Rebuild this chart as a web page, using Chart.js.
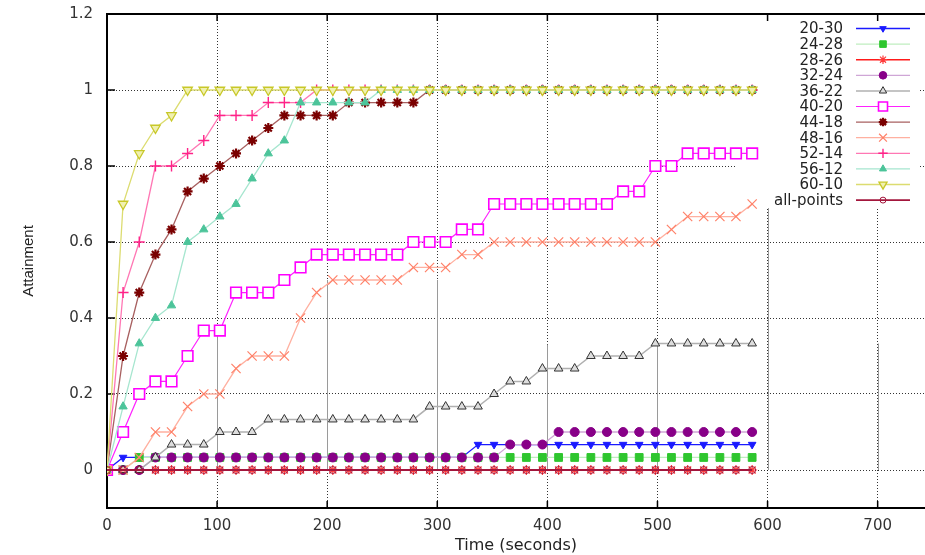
<!DOCTYPE html>
<html>
<head>
<meta charset="utf-8">
<title>Attainment</title>
<script src="https://cdn.jsdelivr.net/npm/chart.js"></script>
<style>
  body { margin: 0; background: #fff; }
  #wrap { width: 925px; height: 555px; }
</style>
</head>
<body>
<div id="wrap"><canvas id="chart" width="925" height="555"></canvas></div>
<script>
// sample times (seconds)
const times = [0, 14.6, 29.3, 44, 58.6, 73.2, 87.9, 102.5, 117.2, 131.8, 146.5, 161.1, 175.8, 190.4,
    205.1, 219.7, 234.4, 249, 263.7, 278.3, 293, 307.6, 322.3, 337, 351.6, 366.2, 380.9, 395.5,
    410.2, 424.8, 439.5, 454.1, 468.8, 483.4, 498.1, 512.7, 527.4, 542, 556.7, 571.3, 586];

const labels = ['20-30', '24-28', '28-26', '32-24', '36-22', '40-20', '44-18', '48-16', '52-14', '56-12', '60-10', 'all-points'];

const s2030 = [0, 0.033, 0.033, 0.033, 0.033, 0.033, 0.033, 0.033, 0.033, 0.033, 0.033, 0.033, 0.033, 0.033,
    0.033, 0.033, 0.033, 0.033, 0.033, 0.033, 0.033, 0.033, 0.033, 0.067, 0.067, 0.067, 0.067, 0.067,
    0.067, 0.067, 0.067, 0.067, 0.067, 0.067, 0.067, 0.067, 0.067, 0.067, 0.067, 0.067, 0.067];
const s2428 = [0, 0, 0.033, 0.033, 0.033, 0.033, 0.033, 0.033, 0.033, 0.033, 0.033, 0.033, 0.033, 0.033,
    0.033, 0.033, 0.033, 0.033, 0.033, 0.033, 0.033, 0.033, 0.033, 0.033, 0.033, 0.033, 0.033, 0.033,
    0.033, 0.033, 0.033, 0.033, 0.033, 0.033, 0.033, 0.033, 0.033, 0.033, 0.033, 0.033, 0.033];
const s2826 = [0, 0, 0, 0, 0, 0, 0, 0, 0, 0, 0, 0, 0, 0, 0, 0, 0, 0, 0, 0, 0,
    0, 0, 0, 0, 0, 0, 0, 0, 0, 0, 0, 0, 0, 0, 0, 0, 0, 0, 0, 0];
const s3224 = [0, 0, 0, 0.033, 0.033, 0.033, 0.033, 0.033, 0.033, 0.033, 0.033, 0.033, 0.033, 0.033,
    0.033, 0.033, 0.033, 0.033, 0.033, 0.033, 0.033, 0.033, 0.033, 0.033, 0.033, 0.067, 0.067, 0.067,
    0.1, 0.1, 0.1, 0.1, 0.1, 0.1, 0.1, 0.1, 0.1, 0.1, 0.1, 0.1, 0.1];
const s3622 = [0, 0, 0, 0.033, 0.067, 0.067, 0.067, 0.1, 0.1, 0.1, 0.133, 0.133, 0.133, 0.133,
    0.133, 0.133, 0.133, 0.133, 0.133, 0.133, 0.167, 0.167, 0.167, 0.167, 0.2, 0.233, 0.233, 0.267,
    0.267, 0.267, 0.3, 0.3, 0.3, 0.3, 0.333, 0.333, 0.333, 0.333, 0.333, 0.333, 0.333];
const s4020 = [0, 0.1, 0.2, 0.233, 0.233, 0.3, 0.367, 0.367, 0.467, 0.467, 0.467, 0.5, 0.533, 0.567,
    0.567, 0.567, 0.567, 0.567, 0.567, 0.6, 0.6, 0.6, 0.633, 0.633, 0.7, 0.7, 0.7, 0.7,
    0.7, 0.7, 0.7, 0.7, 0.733, 0.733, 0.8, 0.8, 0.833, 0.833, 0.833, 0.833, 0.833];
const s4418 = [0, 0.3, 0.467, 0.567, 0.633, 0.733, 0.767, 0.8, 0.833, 0.867, 0.9, 0.933, 0.933, 0.933,
    0.933, 0.967, 0.967, 0.967, 0.967, 0.967, 1, 1, 1, 1, 1, 1, 1, 1,
    1, 1, 1, 1, 1, 1, 1, 1, 1, 1, 1, 1, 1];
const s4816 = [0, 0, 0.033, 0.1, 0.1, 0.167, 0.2, 0.2, 0.267, 0.3, 0.3, 0.3, 0.4, 0.467,
    0.5, 0.5, 0.5, 0.5, 0.5, 0.533, 0.533, 0.533, 0.567, 0.567, 0.6, 0.6, 0.6, 0.6,
    0.6, 0.6, 0.6, 0.6, 0.6, 0.6, 0.6, 0.633, 0.667, 0.667, 0.667, 0.667, 0.7];
const s5214 = [0, 0.467, 0.6, 0.8, 0.8, 0.833, 0.867, 0.933, 0.933, 0.933, 0.967, 0.967, 0.967, 1,
    1, 1, 1, 1, 1, 1, 1, 1, 1, 1, 1, 1, 1, 1,
    1, 1, 1, 1, 1, 1, 1, 1, 1, 1, 1, 1, 1];
const s5612 = [0, 0.167, 0.333, 0.4, 0.433, 0.6, 0.633, 0.667, 0.7, 0.767, 0.833, 0.867, 0.967, 0.967,
    0.967, 0.967, 0.967, 1, 1, 1, 1, 1, 1, 1, 1, 1, 1, 1,
    1, 1, 1, 1, 1, 1, 1, 1, 1, 1, 1, 1, 1];
const s6010 = [0, 0.7, 0.833, 0.9, 0.933, 1, 1, 1, 1, 1, 1, 1, 1, 1,
    1, 1, 1, 1, 1, 1, 1, 1, 1, 1, 1, 1, 1, 1,
    1, 1, 1, 1, 1, 1, 1, 1, 1, 1, 1, 1, 1];
const sAll = [0, 0, 0, 0, 0, 0, 0, 0, 0, 0, 0, 0, 0, 0, 0, 0, 0, 0, 0, 0, 0,
    0, 0, 0, 0, 0, 0, 0, 0, 0, 0, 0, 0, 0, 0, 0, 0, 0, 0, 0, 0];

const series = [s2030, s2428, s2826, s3224, s3622, s4020, s4418, s4816, s5214, s5612, s6010, sAll];

const xTicks = [0, 100, 200, 300, 400, 500, 600, 700];
const xTickLabels = ['0', '100', '200', '300', '400', '500', '600', '700'];
const yTicks = [0, 0.2, 0.4, 0.6, 0.8, 1, 1.2];
const yTickLabels = ['0', '0.2', '0.4', '0.6', '0.8', '1', '1.2'];

// look of each line, same order as labels
const looks = [
    { borderColor: '#1a1aff', borderWidth: 1.3, pointStyle: 'triangle', pointRotation: 180, pointRadius: 4.4, pointBackgroundColor: '#1a1aff', pointBorderColor: '#1a1aff', pointBorderWidth: 1 },
    { borderColor: '#bfeebf', borderWidth: 1.3, pointStyle: 'rect', pointRadius: 5.5, pointBackgroundColor: '#2ec62e', pointBorderColor: '#2ec62e', pointBorderWidth: 1 },
    { borderColor: '#ff1a1a', borderWidth: 1.6, pointStyle: 'star', pointRadius: 5, pointBackgroundColor: '#ff4040', pointBorderColor: '#ff3a3a', pointBorderWidth: 1.2 },
    { borderColor: '#cfa6d6', borderWidth: 1.3, pointStyle: 'circle', pointRadius: 4.5, pointBackgroundColor: '#880088', pointBorderColor: '#880088', pointBorderWidth: 1 },
    { borderColor: '#b0b0b0', borderWidth: 1.5, pointStyle: 'triangle', pointRadius: 5, pointBackgroundColor: '#dddddd', pointBorderColor: '#333333', pointBorderWidth: 1 },
    { borderColor: '#ff22ff', borderWidth: 1.2, pointStyle: 'rect', pointRadius: 7.5, pointBackgroundColor: '#ffffff', pointBorderColor: '#ff00ff', pointBorderWidth: 1.6 },
    { borderColor: '#a86060', borderWidth: 1.3, pointStyle: 'star', pointRadius: 5, pointBackgroundColor: '#7a0000', pointBorderColor: '#7a0000', pointBorderWidth: 2.2 },
    { borderColor: '#ffb0a0', borderWidth: 1.3, pointStyle: 'crossRot', pointRadius: 6.5, pointBackgroundColor: '#ff8068', pointBorderColor: '#ff8068', pointBorderWidth: 1.2 },
    { borderColor: '#ff77b4', borderWidth: 1.3, pointStyle: 'cross', pointRadius: 5.5, pointBackgroundColor: '#ff2288', pointBorderColor: '#ff2288', pointBorderWidth: 1.4 },
    { borderColor: '#a6e6cf', borderWidth: 1.3, pointStyle: 'triangle', pointRadius: 4.8, pointBackgroundColor: '#4cc49a', pointBorderColor: '#4cc49a', pointBorderWidth: 1 },
    { borderColor: '#dcdc70', borderWidth: 1.3, pointStyle: 'triangle', pointRotation: 180, pointRadius: 5.5, pointBackgroundColor: '#f0f0b0', pointBorderColor: '#c8c828', pointBorderWidth: 1.3 },
    { borderColor: '#a3163c', borderWidth: 1.8, pointStyle: 'circle', pointRadius: 3.5, pointBackgroundColor: 'rgba(0,0,0,0)', pointBorderColor: '#a3163c', pointBorderWidth: 1 }
];

Chart.defaults.font.family = '"DejaVu Sans", sans-serif';
Chart.defaults.color = '#333';

// black frame, inward tics and the grey solid bits of the gnuplot grid
const frame = {
    id: 'frame',
    beforeDatasetsDraw(chart, args, opts) {
        const { ctx, chartArea: a, scales: { x, y } } = chart;
        ctx.save();
        ctx.strokeStyle = '#9a9a9a';
        ctx.lineWidth = 1;
        opts.solid.forEach(([t, v]) => {
            const px = Math.round(x.getPixelForValue(t)) + 0.5;
            ctx.beginPath();
            ctx.moveTo(px, y.getPixelForValue(v));
            ctx.lineTo(px, y.getPixelForValue(0));
            ctx.stroke();
        });

        // key background only hides the grid, data still goes over it
        ctx.fillStyle = '#fff';
        ctx.fillRect(chart.width - 190, 19, 183, 189);

        ctx.strokeStyle = '#000';
        ctx.lineWidth = 2;
        ctx.beginPath();
        ctx.moveTo(a.right + 5, a.top);
        ctx.lineTo(a.left, a.top);
        ctx.lineTo(a.left, a.bottom);
        ctx.lineTo(a.right + 5, a.bottom);
        ctx.stroke();

        ctx.lineWidth = 1.5;
        ctx.beginPath();
        xTicks.forEach(t => {
            const px = x.getPixelForValue(t);
            ctx.moveTo(px, a.bottom); ctx.lineTo(px, a.bottom - 7);
            ctx.moveTo(px, a.top); ctx.lineTo(px, a.top + 7);
        });
        yTicks.forEach(v => {
            const py = y.getPixelForValue(v);
            ctx.moveTo(a.left, py); ctx.lineTo(a.left + 8, py);
        });
        ctx.stroke();
        ctx.restore();
    }
};

// key in the upper right, text on the left and sample on the right like gnuplot
const key = {
    id: 'key',
    afterDatasetsDraw(chart) {
        const ctx = chart.ctx;
        const right = chart.width - 82;
        ctx.save();
        ctx.font = '15px "DejaVu Sans"';
        ctx.textAlign = 'right';
        ctx.textBaseline = 'middle';
        chart.data.datasets.forEach((ds, i) => {
            const y = 28.5 + i * 15.6;
            ctx.fillStyle = '#222';
            ctx.fillText(ds.label, right, y + 1);
            ctx.strokeStyle = ds.borderColor;
            ctx.lineWidth = ds.borderWidth;
            ctx.beginPath();
            ctx.moveTo(right + 13, y);
            ctx.lineTo(right + 67, y);
            ctx.stroke();
            ctx.fillStyle = ds.pointBackgroundColor;
            ctx.strokeStyle = ds.pointBorderColor;
            ctx.lineWidth = ds.pointBorderWidth;
            Chart.helpers.drawPoint(ctx, {
                pointStyle: ds.pointStyle,
                rotation: ds.pointRotation || 0,
                radius: ds.pointRadius * 0.85,
                borderWidth: ds.pointBorderWidth
            }, right + 40, y);
        });
        ctx.restore();
    }
};

const chart = document.querySelector('#chart').getContext('2d');

new Chart(chart, {
    type: 'line',
    data: {
        datasets: labels.map((label, i) => ({
            label: label,
            data: times.map((t, j) => ({ x: t, y: series[i][j] })),
            ...looks[i],
            tension: 0,
            fill: false,
            order: labels.length - i
        }))
    },
    options: {
        responsive: false,
        animation: false,
        devicePixelRatio: 1,
        layout: { autoPadding: false, padding: { top: 14, right: 0, bottom: 0, left: 0 } },
        plugins: {
            legend: { display: false },
            tooltip: { enabled: false },
            frame: { solid: [[100, 0.37], [200, 0.5], [300, 0.5], [400, 0.33], [500, 0.333], [600, 0.69], [700, 0.333]] }
        },
        scales: {
            x: {
                type: 'linear',
                min: 0,
                max: 743,
                afterBuildTicks: s => { s.ticks = xTicks.map(v => ({ value: v })); },
                afterFit: s => { s.height = 47; s.paddingLeft = 0; s.paddingRight = 0; },
                ticks: {
                    callback: (v, i) => xTickLabels[i],
                    autoSkip: false,
                    maxRotation: 0,
                    padding: 9,
                    color: '#333',
                    font: { size: 15 }
                },
                grid: { color: 'rgba(0,0,0,0.8)', lineWidth: 1, drawTicks: false },
                border: { display: false, dash: [1, 2] },
                title: {
                    display: true,
                    text: 'Time (seconds)',
                    color: '#222',
                    font: { size: 16 },
                    padding: { top: 0, bottom: 0 }
                }
            },
            y: {
                min: -0.1,
                max: 1.2,
                afterBuildTicks: s => { s.ticks = yTicks.map(v => ({ value: v })); },
                afterFit: s => { s.width = 107; s.paddingTop = 0; s.paddingBottom = 0; },
                ticks: {
                    callback: (v, i) => yTickLabels[i],
                    padding: 14,
                    color: '#333',
                    font: { size: 15 }
                },
                grid: { color: 'rgba(0,0,0,0.8)', lineWidth: 1, drawTicks: false },
                border: { display: false, dash: [1, 2] },
                title: {
                    display: true,
                    text: 'Attainment',
                    color: '#222',
                    font: { family: '"Liberation Sans", sans-serif', size: 15 },
                    padding: { top: 20, bottom: 0 }
                }
            }
        }
    },
    plugins: [frame, key]
})
</script>
</body>
</html>
